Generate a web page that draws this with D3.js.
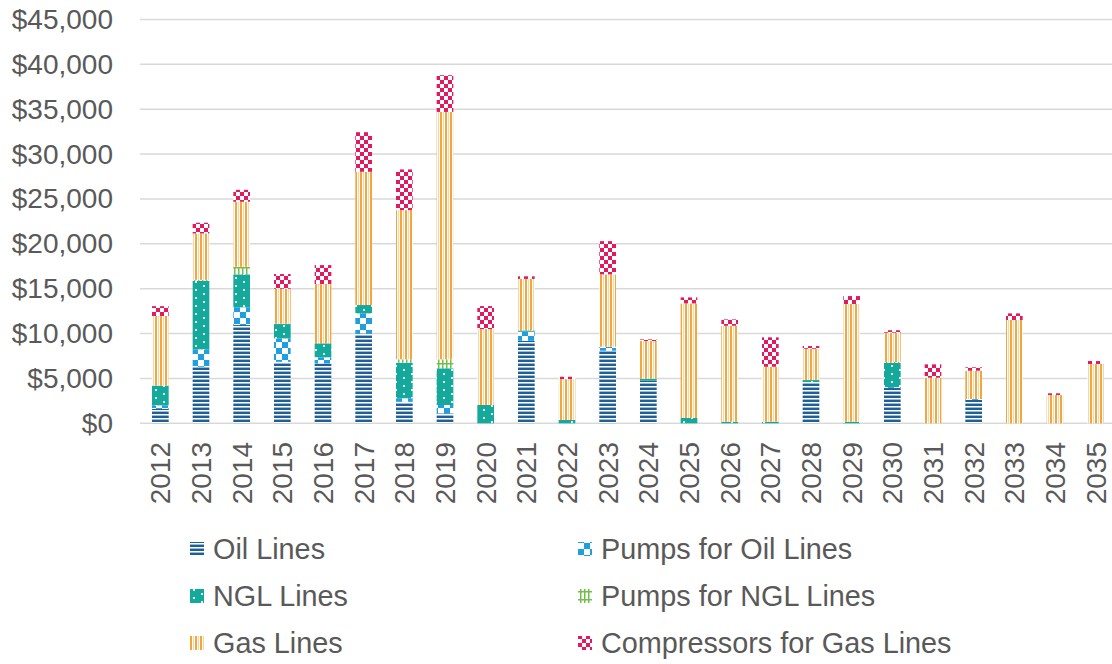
<!DOCTYPE html>
<html lang="en">
<head>
<meta charset="utf-8">
<title>Pipeline Capital Expenditure by Year</title>
<script src="https://cdn.jsdelivr.net/npm/d3@7"></script>
<style>
    body { margin: 0; background: #fff; font-family: "Liberation Sans", Arial, sans-serif; }
    .grid line { stroke: #d9d9d9; stroke-width: 1.5px; }
    .axis text { fill: #595959; }
    .legend text { fill: #595959; font-size: 28.8px; }
</style>
</head>
<body>
<script>
    // Data (millions of dollars)
    const years = d3.range(2012, 2036).map(String);
    const oilLines =      [1600, 6300, 10950, 6860, 6680, 10020, 2410, 1110, 0, 9200, 0, 8090, 4750, 0, 0, 0, 4600, 0, 3930, 0, 2600, 0, 0, 0];
    const pumpsOilLines = [400, 1940, 1970, 2600, 670, 2230, 380, 930, 0, 1000, 0, 440, 0, 0, 0, 0, 0, 0, 100, 0, 100, 0, 0, 0];
    const nglLines =      [2200, 7640, 3680, 1600, 1560, 930, 3960, 4090, 2040, 150, 370, 0, 220, 590, 180, 180, 220, 180, 2700, 0, 0, 0, 0, 0];
    const pumpsNglLines = [0, 100, 840, 50, 0, 0, 380, 1000, 0, 0, 0, 0, 0, 0, 0, 0, 0, 0, 100, 0, 0, 0, 0, 0];
    const gasLines =      [7750, 5180, 7250, 3890, 6600, 14850, 16630, 27570, 8460, 5740, 4560, 8070, 4200, 12770, 10690, 6120, 3490, 13110, 3270, 5080, 3160, 11510, 3150, 6600];
    const compressors =   [1100, 1190, 1330, 1630, 2120, 4410, 4530, 4090, 2560, 290, 260, 3700, 180, 670, 710, 3280, 300, 890, 270, 1490, 380, 740, 190, 340];
    const yTicks = d3.range(0, 45001, 5000);

    const seriesNames = ["Oil Lines", "Pumps for Oil Lines", "NGL Lines", "Pumps for NGL Lines", "Gas Lines", "Compressors for Gas Lines"];
    const seriesValues = [oilLines, pumpsOilLines, nglLines, pumpsNglLines, gasLines, compressors];
    const patternIds = ["p-oil", "p-poil", "p-ngl", "p-pngl", "p-gas", "p-comp"];

    const rows = years.map((y, i) => {
        const r = { year: y };
        seriesNames.forEach((s, k) => r[s] = seriesValues[k][i]);
        return r;
    });

    const W = 1112, H = 664;
    const svg = d3.select("body").append("svg").attr("width", W).attr("height", H);

    // Fill patterns, close to the Excel ones
    const defs = svg.append("defs");
    function pattern(id, w, h) {
        return defs.append("pattern").attr("id", id)
            .attr("patternUnits", "userSpaceOnUse").attr("width", w).attr("height", h);
    }
    let p = pattern("p-oil", 4, 4);
    p.append("rect").attr("width", 4).attr("height", 4).attr("fill", "#fff");
    p.append("rect").attr("width", 4).attr("height", 2).attr("fill", "#1f5f96");
    p.append("rect").attr("y", 3).attr("width", 4).attr("height", 1).attr("fill", "#9bbad6");

    p = pattern("p-poil", 12, 12);
    p.append("rect").attr("width", 12).attr("height", 12).attr("fill", "#1ea0e0");
    p.append("rect").attr("x", 6).attr("width", 6).attr("height", 6).attr("fill", "#fff");
    p.append("rect").attr("y", 6).attr("width", 6).attr("height", 6).attr("fill", "#fff");

    p = pattern("p-ngl", 16, 8);
    p.append("rect").attr("width", 16).attr("height", 8).attr("fill", "#14a99b");
    p.append("rect").attr("x", 3).attr("y", 1).attr("width", 2).attr("height", 2).attr("fill", "#e6f6f4");
    p.append("rect").attr("x", 11).attr("y", 5).attr("width", 2).attr("height", 2).attr("fill", "#e6f6f4");

    p = pattern("p-pngl", 8, 8);
    p.append("rect").attr("width", 8).attr("height", 8).attr("fill", "#fff");
    p.append("rect").attr("x", 2).attr("width", 1.5).attr("height", 8).attr("fill", "#6fc04a");
    p.append("rect").attr("x", 6).attr("width", 1.5).attr("height", 8).attr("fill", "#6fc04a");
    p.append("rect").attr("y", 3).attr("width", 8).attr("height", 1.5).attr("fill", "#6fc04a");

    p = pattern("p-gas", 5, 4);
    p.append("rect").attr("width", 5).attr("height", 4).attr("fill", "#fff");
    p.append("rect").attr("width", 2).attr("height", 4).attr("fill", "#f5a53d");
    p.append("rect").attr("x", 3).attr("width", 1).attr("height", 4).attr("fill", "#fad6a5");

    p = pattern("p-comp", 8, 8);
    p.append("rect").attr("width", 8).attr("height", 8).attr("fill", "#fff");
    p.append("rect").attr("width", 4).attr("height", 4).attr("fill", "#e5185c");
    p.append("rect").attr("x", 4).attr("y", 4).attr("width", 4).attr("height", 4).attr("fill", "#e5185c");

    // Scales
    const x = d3.scaleBand().domain(years).range([140, 1116]).paddingInner(0.59).paddingOuter(0.295);
    const y = d3.scaleLinear().domain([0, 45000]).range([423.3, 19.5]);

    // Grid lines
    svg.append("g").attr("class", "grid")
        .selectAll("line").data(yTicks).join("line")
        .attr("x1", 140).attr("x2", W)
        .attr("y1", d => y(d)).attr("y2", d => y(d));

    // Y axis labels
    const yAxis = svg.append("g").attr("class", "axis")
        .attr("transform", "translate(128,0)")
        .call(d3.axisLeft(y).tickValues(yTicks).tickSize(0).tickPadding(15)
            .tickFormat(d => "$" + d3.format(",")(d)));
    yAxis.select(".domain").remove();
    yAxis.selectAll("text").attr("font-size", 28).attr("font-family", "Liberation Sans, Arial, sans-serif");

    // Stacked bars
    const stack = d3.stack().keys(seriesNames)(rows);
    svg.append("g").selectAll("g").data(stack).join("g")
        .attr("fill", (d, i) => `url(#${patternIds[i]})`)
        .selectAll("rect").data(d => d).join("rect")
        .attr("x", d => x(d.data.year))
        .attr("width", x.bandwidth())
        .attr("y", d => y(d[1]))
        .attr("height", d => y(d[0]) - y(d[1]));

    // X axis labels (rotated)
    svg.append("g").attr("class", "axis")
        .selectAll("text").data(years).join("text")
        .attr("transform", d => `translate(${x(d) + x.bandwidth() / 2 + 10},442) rotate(-90)`)
        .attr("text-anchor", "end")
        .attr("font-size", 28)
        .text(d => d);

    // Legend
    const legendPos = [[190, 549], [578, 549], [190, 596], [578, 596], [190, 643], [578, 643]];
    const legend = svg.append("g").attr("class", "legend")
        .selectAll("g").data(seriesNames).join("g")
        .attr("transform", (d, i) => `translate(${legendPos[i][0]},${legendPos[i][1]})`);
    legend.append("rect").attr("x", 0).attr("y", -7).attr("width", 14).attr("height", 14)
        .attr("fill", (d, i) => `url(#${patternIds[i]})`);
    legend.append("text").attr("x", 23).attr("dy", "0.36em").text(d => d);
</script>
</body>
</html>
